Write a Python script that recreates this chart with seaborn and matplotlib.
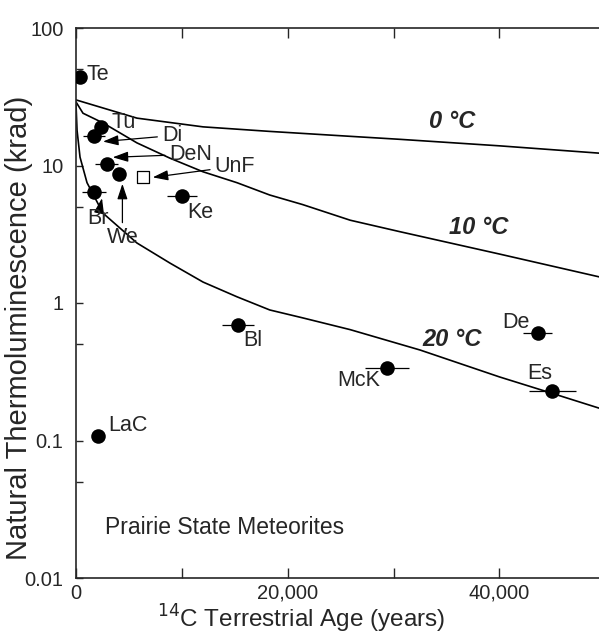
import matplotlib.pyplot as plt
import matplotlib.ticker as mticker
from matplotlib.transforms import offset_copy
import numpy as np
import pandas as pd
import seaborn as sns

sns.set_style("ticks")
plt.rcParams["font.family"] = ["Liberation Sans", "DejaVu Sans"]

# meteorites: 14C terrestrial age (years) and natural TL (krad)
names = ["Te", "Tu", "Di", "DeN", "We", "Br", "Ke", "Bl", "LaC", "McK", "De", "Es"]
age = [400, 2400, 1700, 2900, 4100, 1700, 10000, 15300, 2100, 29400, 43600, 45000]
tl = [44, 19, 16.5, 10.2, 8.7, 6.4, 6.0, 0.69, 0.107, 0.336, 0.61, 0.228]
age_err = [0, 0, 1000, 1100, 0, 1100, 1450, 1500, 0, 2100, 1400, 2200]

# unfractionated sample (open square)
unf_age = [6300]
unf_tl = [8.2]

# decay curves
age_0c = [0, 2550, 5760, 12000, 18300, 25900, 30600, 40000, 49400]
tl_0c = [30, 26.2, 22.1, 19.1, 17.7, 16.3, 15.5, 13.9, 12.3]
age_10c = [0, 660, 2550, 5760, 8880, 12000, 15200, 18300, 21400, 25900, 30600, 40000, 49400]
tl_10c = [29, 24, 20.4, 14.6, 11.3, 9.0, 7.5, 6.1, 5.2, 4.0, 3.3, 2.27, 1.55]
age_20c = [0, 100, 380, 1040, 2550, 5760, 8880, 12000, 15200, 18300, 21400, 25900,
           32500, 40000, 45000, 49400]
tl_20c = [28, 18, 11.5, 7.5, 4.5, 2.73, 1.95, 1.42, 1.11, 0.89, 0.78, 0.64,
          0.455, 0.29, 0.22, 0.172]

pts = pd.DataFrame({"name": names, "age": age, "tl": tl, "err": age_err})
curves = pd.concat([
    pd.DataFrame({"age": age_0c, "tl": tl_0c, "T": "0"}),
    pd.DataFrame({"age": age_10c, "tl": tl_10c, "T": "10"}),
    pd.DataFrame({"age": age_20c, "tl": tl_20c, "T": "20"}),
], ignore_index=True)

fig = plt.figure(figsize=(5.99, 6.36), dpi=100)
ax = fig.add_axes([76 / 599, 1 - 578 / 636, 523 / 599, 550 / 636])

sns.lineplot(data=curves, x="age", y="tl", units="T", estimator=None,
             color="black", lw=1.2, ax=ax, sort=False)

ax.errorbar(pts["age"], pts["tl"], xerr=pts["err"], fmt="none",
            ecolor="black", elinewidth=0.9, capsize=0)
sns.scatterplot(data=pts, x="age", y="tl", color="black", s=110,
                edgecolor="black", linewidth=0, ax=ax, zorder=3)
sns.scatterplot(x=unf_age, y=unf_tl, marker="s", s=70, facecolor="white",
                edgecolor="black", linewidth=0.9, ax=ax, zorder=3)

ax.set_yscale("log")
ax.set_xlim(0, 49400)
ax.set_ylim(0.01, 100)

ax.set_xticks([0, 20000, 40000])
ax.set_xticklabels(["0", "20,000", "40,000"])
ax.xaxis.set_minor_locator(mticker.FixedLocator([10000, 30000]))
ax.set_yticks([0.01, 0.1, 1, 10, 100])
ax.set_yticklabels(["0.01", "0.1", "1", "10", "100"])
ax.yaxis.set_minor_locator(mticker.FixedLocator([0.05, 0.5, 5, 50]))
ax.yaxis.set_minor_formatter(mticker.NullFormatter())

ax.tick_params(axis="x", which="both", direction="in", top=True, length=7,
               width=1, labelsize=14.5, pad=4)
ax.tick_params(axis="y", which="both", direction="in", right=False, length=5,
               width=1, labelsize=14.5, pad=9)
ax.spines["right"].set_visible(False)
for s in ["left", "top", "bottom"]:
    ax.spines[s].set_linewidth(1.2)

ax.set_xlabel("$^{14}$C Terrestrial Age (years)", fontsize=17.5, va="baseline")
ax.xaxis.set_label_coords(0.43, -0.09)
ax.set_ylabel("Natural Thermoluminescence (krad)", fontsize=21)
ax.yaxis.set_label_coords(-0.082, 0.455)

lab = 15.5
# plain labels, offsets in px from the point (x right, y up)
plain = {"Te": (18, 3), "Tu": (22, 5), "Ke": (18, -16), "Bl": (15, -15),
         "LaC": (30, 11), "McK": (-29, -12), "De": (-22, 10), "Es": (-13, 18)}
for n, (dx, dy) in plain.items():
    r = pts[pts["name"] == n].iloc[0]
    ax.annotate(n, (r["age"], r["tl"]), xytext=(dx * 0.72, dy * 0.72),
                textcoords="offset points", ha="center", va="center", fontsize=lab)

arrow = dict(arrowstyle="-|>,head_length=0.6,head_width=0.2",
             color="black", lw=0.9, shrinkA=1, shrinkB=0)
# arrowed labels: tip offset from point, text offset from tip (px)
arrowed = {"Di": ((9, -6), (59, 6), "left"),
           "DeN": ((6, 7), (57, 3), "left"),
           "Br": ((8, -6), (-4, -20), "center"),
           "We": ((3, -10), (0, -54), "center")}
for n, ((tx, ty), (dx, dy), ha) in arrowed.items():
    r = pts[pts["name"] == n].iloc[0]
    trans = offset_copy(ax.transData, fig=fig, x=tx * 0.72, y=ty * 0.72, units="points")
    ax.annotate(n, (r["age"], r["tl"]), xycoords=trans,
                xytext=(dx * 0.72, dy * 0.72), textcoords="offset points",
                ha=ha, va="center", fontsize=lab, arrowprops=arrow)
trans = offset_copy(ax.transData, fig=fig, x=10 * 0.72, y=0, units="points")
ax.annotate("UnF", (unf_age[0], unf_tl[0]), xycoords=trans,
            xytext=(62 * 0.72, 11 * 0.72), textcoords="offset points",
            ha="left", va="center", fontsize=lab, arrowprops=arrow)

# curve temperature labels
for txt, x, y in [("0 °C", 452, 122), ("10 °C", 479, 227), ("20 °C", 452, 340)]:
    ax.text((x - 76) / 523, 1 - (y - 28) / 550, txt,
            transform=ax.transAxes, ha="center", va="center", fontsize=17,
            fontweight="bold", fontstyle="italic")

ax.text((105 - 76) / 523, 1 - (528 - 28) / 550, "Prairie State Meteorites",
        transform=ax.transAxes, ha="left", va="center", fontsize=16.5)

fig.savefig("out.png", dpi=100)
